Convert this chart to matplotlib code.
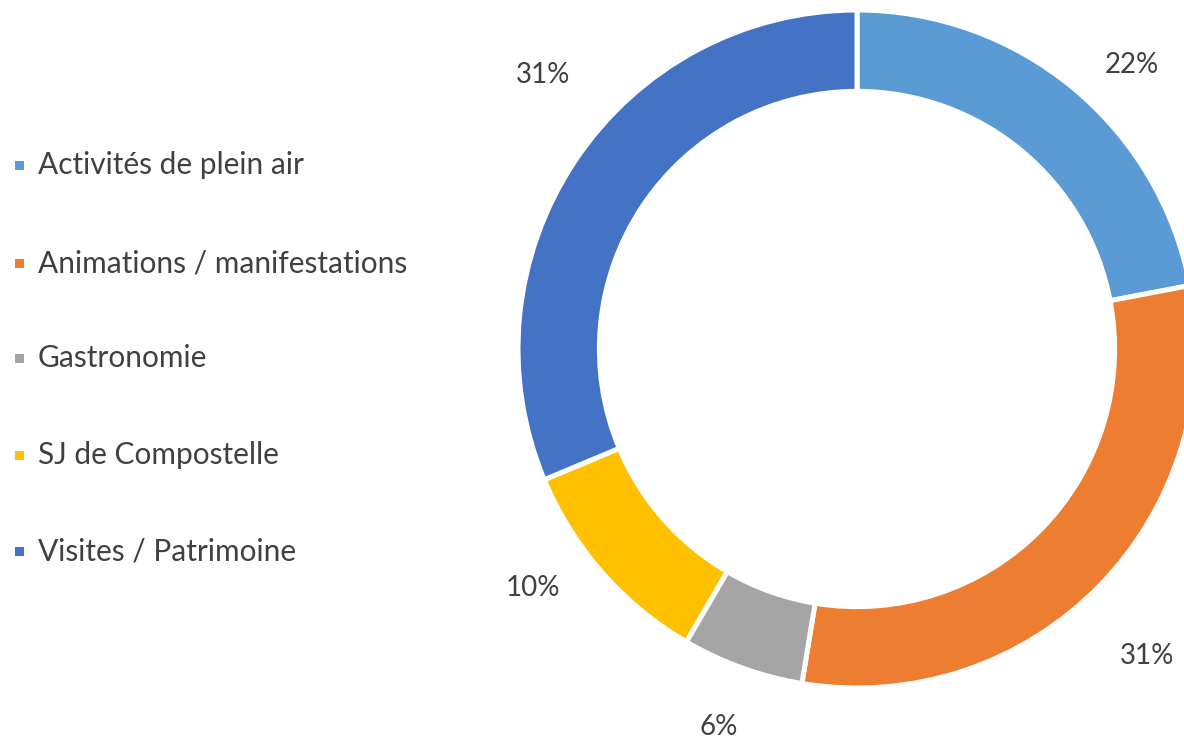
import matplotlib
matplotlib.use("Agg")
import matplotlib.pyplot as plt
from matplotlib.patches import Rectangle

categories = ["Activités de plein air", "Animations / manifestations", "Gastronomie",
              "SJ de Compostelle", "Visites / Patrimoine"]
values = [22.0, 30.6, 5.8, 10.3, 31.3]
colors = ["#5B9BD5", "#ED7D31", "#A5A5A5", "#FFC000", "#4472C4"]

# label placement (in units of the ring radius), layout only
label_xy = [(0.811, 0.838), (0.855, -0.906), (-0.407, -1.115),
            (-0.956, -0.705), (-0.926, 0.808)]

W, H = 1184, 742
fig = plt.figure(figsize=(W / 100, H / 100), dpi=100)
plt.rcParams['font.family'] = ['Lato', 'DejaVu Sans']

cx, cy, R = 857, 349, 339
ax = fig.add_axes([(cx - R) / W, (H - cy - R) / H, 2 * R / W, 2 * R / H])
ax.set_aspect('equal')
ax.axis('off')

wedges, texts, autotexts = ax.pie(
    values, colors=colors, startangle=90, counterclock=False, radius=1.0,
    wedgeprops=dict(width=0.24, edgecolor='white', linewidth=3.6),
    autopct=lambda p: f"{p:.0f}%", pctdistance=1.2,
    textprops=dict(color='#404040', fontsize=20))
for w in wedges:
    w.set_clip_on(False)
for t, (x, y) in zip(autotexts, label_xy):
    t.set_position((x, y))
    t.set_clip_on(False)
ax.set_xlim(-1, 1)
ax.set_ylim(-1, 1)

# legend
legend_y = [165, 263, 358, 455, 551]
for lab, col, y in zip(categories, colors, legend_y):
    fig.patches.append(Rectangle((15 / W, (H - y - 5) / H), 9 / W, 9 / H,
                                 transform=fig.transFigure, facecolor=col,
                                 edgecolor='none'))
    fig.text(38 / W, (H - y) / H, lab, ha='left', va='center',
             color='#404040', fontsize=21.5)

fig.savefig("out.png", dpi=100)
